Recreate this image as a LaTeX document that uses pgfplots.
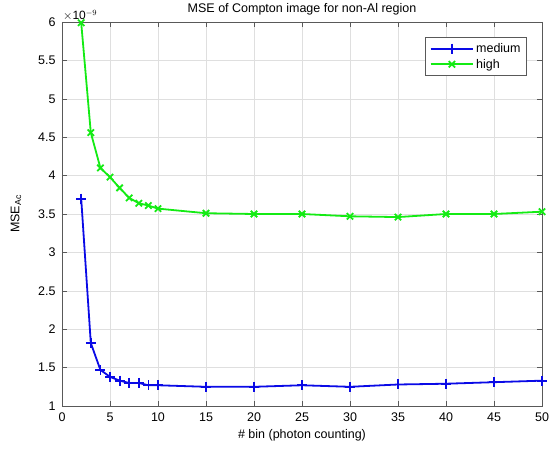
\documentclass[border=0pt]{standalone}
\usepackage{fontspec}
\setmainfont{Liberation Sans}
\usepackage{pgfplots}
\pgfplotsset{compat=1.18}

\definecolor{mblue}{RGB}{10,10,230}
\definecolor{mgreen}{RGB}{20,235,20}

\begin{document}
\begin{tikzpicture}
\begin{axis}[
    scale only axis,
    width=480pt, height=384pt,
    xmin=0, xmax=50, ymin=1, ymax=6,
    xtick={0,5,...,50},
    ytick={1,1.5,...,6},
    yticklabels={1,1.5,2,2.5,3,3.5,4,4.5,5,5.5,6},
    /pgf/number format/assume math mode=true,
    tick label style={font=\fontsize{12.5}{14}\selectfont},
    yticklabel style={xshift=-3pt},
    xticklabel style={yshift=-3pt},
    label style={font=\fontsize{12.5}{14}\selectfont},
    title style={font=\fontsize{12.5}{14}\selectfont, yshift=-3pt},
    title={MSE of Compton image for non-Al region},
    xlabel={\# bin (photon counting)},
    ylabel={MSE$_{\mathrm{Ac}}$},
    xlabel style={yshift=-1pt},
    ylabel style={yshift=10pt},
    grid=major,
    major grid style={gray!25},
    axis line style={gray!70!black},
    tick style={gray!70!black},
    tick align=inside,
    major tick length=5pt,
    clip=false,
    legend style={at={(1,1)}, anchor=north east, xshift=-15pt, yshift=-15pt,
        font=\fontsize{12.5}{14}\selectfont, draw=gray!70!black, line width=0.8pt,
        row sep=1pt, inner xsep=4pt, inner ysep=4pt},
    legend cell align=left,
    legend image code/.code={\draw[mark repeat=2, mark phase=2, #1]
        plot coordinates {(0cm,0cm) (0.75cm,0cm) (1.5cm,0cm)};},
]
\addplot[mblue, line width=1.8pt, mark=+, mark size=5pt, mark options={line width=1.8pt}] coordinates {
(2,3.70) (3,1.82) (4,1.47) (5,1.38) (6,1.33) (7,1.30) (8,1.30) (9,1.27) (10,1.27)
(15,1.25) (20,1.25) (25,1.27) (30,1.25) (35,1.28) (40,1.29) (45,1.31) (50,1.33)
};
\addlegendentry{medium}
\addplot[mgreen, line width=1.8pt, mark=x, mark size=4.5pt, mark options={line width=1.8pt}] coordinates {
(2,5.99) (3,4.56) (4,4.10) (5,3.98) (6,3.84) (7,3.71) (8,3.64) (9,3.61) (10,3.57)
(15,3.51) (20,3.50) (25,3.50) (30,3.47) (35,3.46) (40,3.50) (45,3.50) (50,3.53)
};
\addlegendentry{high}
\node[anchor=south west, font=\fontsize{12}{14}\selectfont, inner sep=1pt] at (rel axis cs:0,1) {$\times$10$^{-9}$};
\end{axis}
\pgfresetboundingbox
\useasboundingbox ([shift={(-62pt,-42pt)}]current axis.south west) rectangle ([shift={(10pt,22pt)}]current axis.north east);
\end{tikzpicture}
\end{document}
